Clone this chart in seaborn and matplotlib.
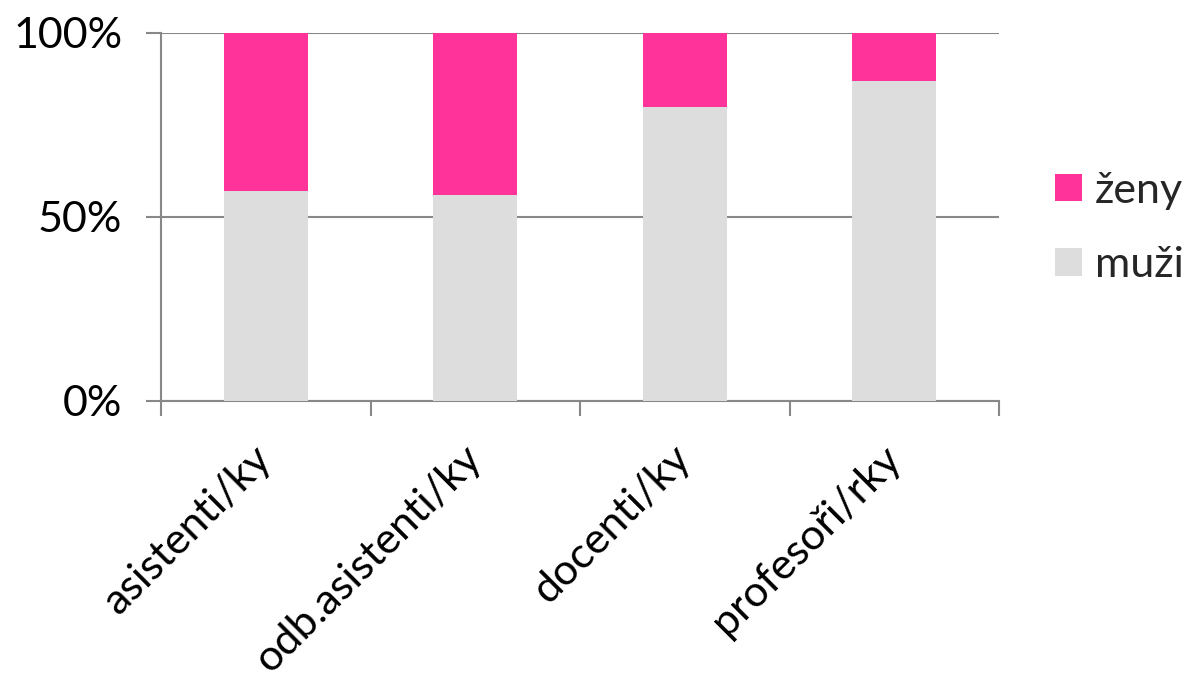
import matplotlib
matplotlib.use("Agg")
import matplotlib.pyplot as plt
import seaborn as sns
import pandas as pd
from matplotlib.patches import Patch
from matplotlib.ticker import FixedLocator, PercentFormatter

categories = ["asistenti/ky", "odb.asistenti/ky", "docenti/ky", "profesoři/rky"]
muzi = [57.1, 56.0, 80.0, 87.0]
zeny = [42.9, 44.0, 20.0, 13.0]
series_names = ["ženy", "muži"]
colors = {"ženy": "#FF3399", "muži": "#DDDDDD"}

sns.set_theme(style="white")
plt.rcParams["font.family"] = ["Lato", "DejaVu Sans"]

df = pd.DataFrame({"kategorie": categories, "muži": muzi, "ženy": zeny})
df["celkem"] = df["muži"] + df["ženy"]

fig = plt.figure(figsize=(11.84, 6.82), dpi=100)
ax = fig.add_axes([161/1184, 1 - 401/682, (999-161)/1184, (401-33)/682])

sns.barplot(data=df, x="kategorie", y="celkem", color=colors["ženy"], width=0.4,
            saturation=1, ax=ax, zorder=2, linewidth=0)
sns.barplot(data=df, x="kategorie", y="muži", color=colors["muži"], width=0.4,
            saturation=1, ax=ax, zorder=3, linewidth=0)

ax.set_xlim(-0.5, 3.5)
ax.set_ylim(0, 100)
ax.set_yticks([0, 50, 100])
ax.yaxis.set_major_formatter(PercentFormatter(decimals=0))
ax.grid(axis="y", color="#888888", linewidth=1.5, zorder=0)
ax.set_axisbelow(True)
ax.set_xlabel("")
ax.set_ylabel("")

for s in ["top", "right"]:
    ax.spines[s].set_visible(False)
for s in ["left", "bottom"]:
    ax.spines[s].set_color("#888888")
    ax.spines[s].set_linewidth(1.5)

FS = 31
ax.tick_params(axis="y", length=11, width=1.5, color="#888888", labelsize=FS,
               labelcolor="black", pad=17, left=True)
ax.xaxis.set_minor_locator(FixedLocator([-0.5, 0.5, 1.5, 2.5, 3.5]))
ax.tick_params(axis="x", which="minor", length=11, width=1.5, color="#888888", bottom=True)
ax.tick_params(axis="x", which="major", length=0, labelsize=FS, labelcolor="black", pad=37)
for lbl in ax.get_xticklabels():
    lbl.set_rotation(45)
    lbl.set_ha("right")
    lbl.set_va("center")
    lbl.set_rotation_mode("anchor")

handles = [Patch(facecolor=colors[n], edgecolor="none") for n in series_names]
fig.legend(handles, series_names, loc="center left", bbox_to_anchor=(1038/1184, 1 - 228/682),
           frameon=False, fontsize=FS, handlelength=0.62, handleheight=0.62,
           handletextpad=0.3, labelspacing=0.85, borderaxespad=0)

fig.savefig("out.png", dpi=100)
